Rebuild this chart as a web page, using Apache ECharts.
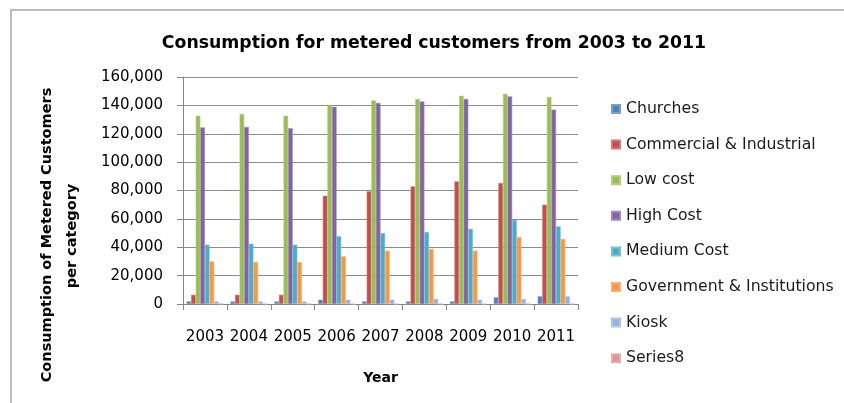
<!DOCTYPE html>
<html>
<head>
<meta charset="utf-8">
<script src="https://cdn.jsdelivr.net/npm/echarts@6/dist/echarts.min.js"></script>
<style>
  html, body { margin: 0; padding: 0; background: #fff; }
  #chart { width: 844px; height: 403px; }
</style>
</head>
<body>
<div id="chart"></div>
<script>
// Years on the category axis
const years = ['2003', '2004', '2005', '2006', '2007', '2008', '2009', '2010', '2011'];

// Consumption per customer category
const churches      = [1800, 1800, 1800, 3000, 1800, 1800, 1800, 4700, 5400];
const commercial    = [6500, 6500, 6500, 76300, 79400, 82900, 86400, 85300, 70000];
const lowCost       = [132700, 134000, 132700, 140000, 143500, 144500, 146800, 148200, 145900];
const highCost      = [124500, 124800, 124000, 139000, 141700, 142800, 144500, 146300, 137000];
const mediumCost    = [41800, 42500, 41800, 47700, 50000, 50700, 53000, 59400, 54700];
const government    = [30000, 29600, 29600, 33600, 37600, 38800, 37600, 47200, 45800];
const kiosk         = [1800, 1800, 1800, 3000, 3000, 3600, 3000, 3600, 5400];
const series8       = [0, 0, 0, 0, 0, 0, 0, 0, 0];

// Value axis ticks
const yMin = 0, yMax = 160000, yStep = 20000;

const seriesDefs = [
  { name: 'Churches', data: churches, color: '#4F81BD' },
  { name: 'Commercial & Industrial', data: commercial, color: '#C0504D' },
  { name: 'Low cost', data: lowCost, color: '#9BBB59' },
  { name: 'High Cost', data: highCost, color: '#8064A2' },
  { name: 'Medium Cost', data: mediumCost, color: '#4BACC6' },
  { name: 'Government & Institutions', data: government, color: '#F79646' },
  { name: 'Kiosk', data: kiosk, color: '#95B3D7' },
  { name: 'Series8', data: series8, color: '#D99694' }
];

const FONT = 'DejaVu Sans';

const chart = echarts.init(document.getElementById('chart'), null, { renderer: 'canvas' });

chart.setOption({
  animation: false,
  backgroundColor: '#fff',
  title: {
    text: 'Consumption for metered customers from 2003 to 2011',
    left: 429,
    top: 30,
    textAlign: 'center',
    textStyle: { fontFamily: FONT, fontWeight: 'bold', fontSize: 17.3, color: '#000' }
  },
  legend: {
    orient: 'vertical',
    left: 606,
    top: 94,
    itemWidth: 8,
    itemHeight: 8,
    itemGap: 15.6,
    icon: 'rect',
    textStyle: { fontFamily: FONT, fontSize: 15.7, color: '#1a1a1a', padding: [0, 0, 0, 1], height: 20, lineHeight: 20 },
    data: seriesDefs.map(s => s.name)
  },
  grid: { left: 183, right: 266, top: 77, bottom: 99, containLabel: false },
  xAxis: {
    type: 'category',
    data: years,
    axisLine: { lineStyle: { color: '#868686', width: 1 } },
    axisTick: { show: true, alignWithLabel: false, length: 6, lineStyle: { color: '#868686' } },
    axisLabel: { fontFamily: FONT, fontSize: 15, color: '#000', margin: 26, interval: 0 },
    name: 'Year',
    nameLocation: 'middle',
    nameGap: 67,
    nameTextStyle: { fontFamily: FONT, fontWeight: 'bold', fontSize: 14, color: '#000' }
  },
  yAxis: {
    type: 'value',
    min: yMin,
    max: yMax,
    interval: yStep,
    axisLine: { show: true, lineStyle: { color: '#868686', width: 1 } },
    axisTick: { show: true, length: 6, lineStyle: { color: '#868686' } },
    axisLabel: {
      fontFamily: FONT, fontSize: 15, color: '#000', margin: 20,
      formatter: v => v.toLocaleString('en-US')
    },
    splitLine: { show: true, lineStyle: { color: '#8c8c8c', width: 1 } }
  },
  graphic: [
    // Outer chart frame
    {
      type: 'rect',
      shape: { x: 11, y: 10, width: 900, height: 500 },
      style: { fill: 'none', stroke: '#bcbcbc', lineWidth: 2 },
      silent: true
    },
    // Value axis title, two rotated lines
    {
      type: 'text',
      x: 47, y: 235, rotation: Math.PI / 2,
      style: {
        text: 'Consumption of Metered Customers',
        fontFamily: FONT, fontWeight: 'bold', fontSize: 14.5, fill: '#000',
        align: 'center', verticalAlign: 'middle'
      }
    },
    {
      type: 'text',
      x: 72, y: 236, rotation: Math.PI / 2,
      style: {
        text: 'per category',
        fontFamily: FONT, fontWeight: 'bold', fontSize: 14.5, fill: '#000',
        align: 'center', verticalAlign: 'middle'
      }
    }
  ],
  series: seriesDefs.map(s => ({
    name: s.name,
    type: 'bar',
    data: s.data,
    barGap: '0%',
    barCategoryGap: '16%',
    itemStyle: { color: s.color, borderColor: echarts.color.lift(s.color, 0.25), borderWidth: 0.6 }
  }))
});
</script>
</body>
</html>
